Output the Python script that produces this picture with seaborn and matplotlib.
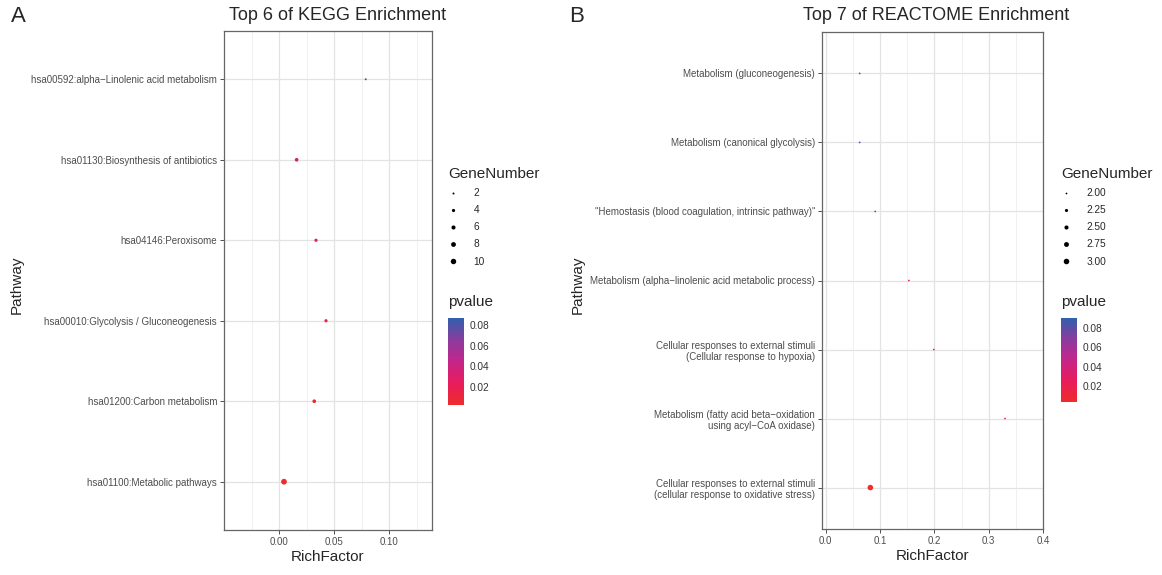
import pandas as pd
import seaborn as sns
import matplotlib.pyplot as plt
from matplotlib.colors import LinearSegmentedColormap, Normalize
from matplotlib.cm import ScalarMappable
from matplotlib.lines import Line2D

# KEGG panel (bottom to top)
kegg_pathway = [
    "hsa01100:Metabolic pathways",
    "hsa01200:Carbon metabolism",
    "hsa00010:Glycolysis / Gluconeogenesis",
    "hsa04146:Peroxisome",
    "hsa01130:Biosynthesis of antibiotics",
    "hsa00592:alpha\u2212Linolenic acid metabolism",
]
kegg_rich = [0.0045, 0.032, 0.0427, 0.0336, 0.016, 0.0788]
kegg_genes = [11, 5, 4, 4, 5, 2]
kegg_p = [0.002, 0.008, 0.015, 0.028, 0.034, 0.087]
kegg_size_ticks = [2, 4, 6, 8, 10]

# REACTOME panel (bottom to top)
reactome_pathway = [
    "Cellular responses to external stimuli\n(cellular response to oxidative stress)",
    "Metabolism (fatty acid beta\u2212oxidation\nusing acyl\u2212CoA oxidase)",
    "Cellular responses to external stimuli\n(Cellular response to hypoxia)",
    "Metabolism (alpha\u2212linolenic acid metabolic process)",
    "\"Hemostasis (blood coagulation, intrinsic pathway)\"",
    "Metabolism (canonical glycolysis)",
    "Metabolism (gluconeogenesis)",
]
reactome_rich = [0.082, 0.330, 0.199, 0.153, 0.091, 0.0624, 0.0624]
reactome_genes = [3, 2, 2, 2, 2, 2, 2]
reactome_p = [0.0036, 0.012, 0.016, 0.020, 0.060, 0.086, 0.090]
reactome_size_ticks = [2.0, 2.25, 2.5, 2.75, 3.0]

pval_ticks = [0.02, 0.04, 0.06, 0.08]

sns.set_theme(style="white")
plt.rcParams['font.family'] = ['Liberation Sans', 'DejaVu Sans']

cmap = LinearSegmentedColormap.from_list(
    "p", ["#EE2C2C", "#E81C5C", "#C4258A", "#8A3C9E", "#3060AC"])

fig = plt.figure(figsize=(11.62, 5.75), dpi=100)
W, H = 1162, 575


def fx(px):
    return px / W


def fy(py):
    return 1 - py / H


def panel(box, cbox, legx, pathway, rich, genes, pvals, sizes, size_ticks,
          fmt, xlim, xticks, minor, title, tcx, letter, lx, ylab_x):
    df = pd.DataFrame({"Pathway": pathway, "RichFactor": rich,
                       "GeneNumber": genes, "pvalue": pvals})
    ax = fig.add_axes([fx(box[0]), fy(box[3]), fx(box[2] - box[0]),
                       (box[3] - box[1]) / H])
    norm = Normalize(min(pvals), max(pvals))
    gmin, gmax = min(genes), max(genes)
    sns.scatterplot(data=df, x="RichFactor", y="Pathway", hue="pvalue",
                    hue_norm=norm, palette=cmap, size="GeneNumber",
                    sizes=sizes, size_norm=(gmin, gmax), linewidth=0,
                    legend=False, ax=ax, zorder=3)
    ax.set_xlim(*xlim)
    ax.set_ylim(-0.6, len(pathway) - 0.4)
    ax.set_xticks(xticks)
    ax.set_xticks(minor, minor=True)
    ax.set_xticklabels([f"{t:.2f}" if xticks[1] < 0.1 else f"{t:.1f}" for t in xticks])
    ax.grid(True, which="major", color="#E3E3E3", lw=0.9, zorder=0)
    ax.grid(True, which="minor", axis="x", color="#EEEEEE", lw=0.6, zorder=0)
    ax.set_axisbelow(True)
    for s in ax.spines.values():
        s.set_color("#666666")
        s.set_linewidth(0.9)
    ax.tick_params(axis="both", which="major", length=3, width=0.6,
                   color="#333333", labelsize=7, labelcolor="#4D4D4D", pad=2,
                   bottom=True, left=True)
    ax.tick_params(which="minor", length=0)
    ax.set_xlabel("RichFactor", fontsize=11, labelpad=2)
    ax.set_ylabel("")
    fig.text(fx(ylab_x), fy(285), "Pathway", rotation=90, fontsize=11,
             ha="center", va="center")
    fig.text(fx(tcx), fy(16), title, fontsize=13, ha="center", va="center")
    fig.text(fx(lx), fy(16), letter, fontsize=16, ha="center", va="center")

    # size legend
    handles = []
    for v in size_ticks:
        s = sizes[0] + (v - gmin) / (gmax - gmin) * (sizes[1] - sizes[0])
        handles.append(Line2D([], [], marker="o", ls="", color="black",
                              markersize=s ** 0.5, markeredgewidth=0))
    ax.legend(handles, [fmt.format(v) for v in size_ticks],
              title="GeneNumber", loc="upper left",
              bbox_to_anchor=(fx(legx - 5), fy(162)),
              bbox_transform=fig.transFigure, frameon=False, fontsize=7.3,
              title_fontsize=11, handlelength=1.0, handletextpad=1.5,
              labelspacing=0.7, alignment="left", borderpad=0)

    # colour bar
    cax = fig.add_axes([fx(cbox[0]), fy(cbox[2]), fx(16), (cbox[2] - cbox[1]) / H])
    cb = fig.colorbar(ScalarMappable(norm=norm, cmap=cmap), cax=cax,
                      ticks=pval_ticks)
    cb.outline.set_visible(False)
    cax.tick_params(length=3, color="white", direction="in", labelsize=7.3,
                    labelcolor="#333333", pad=4, width=0.6)
    fig.text(fx(cbox[0]), fy(302), "pvalue", fontsize=11, ha="left", va="center")
    return ax


panel((224, 31, 432, 530), (448, 318, 405), 448, kegg_pathway, kegg_rich,
      kegg_genes, kegg_p, (2.0, 17.0), kegg_size_ticks, "{:d}",
      (-0.05, 0.139), [0.0, 0.05, 0.10], [-0.025, 0.025, 0.075, 0.125],
      "Top 6 of KEGG Enrichment", 338, "A", 18, 17)

panel((822, 32, 1043, 529), (1061, 318, 402), 1061, reactome_pathway,
      reactome_rich, reactome_genes, reactome_p, (1.6, 16.0),
      reactome_size_ticks, "{:.2f}",
      (-0.007, 0.40), [0.0, 0.1, 0.2, 0.3, 0.4], [0.05, 0.15, 0.25, 0.35],
      "Top 7 of REACTOME Enrichment", 936, "B", 577, 578)

fig.savefig("out.png", dpi=100)
